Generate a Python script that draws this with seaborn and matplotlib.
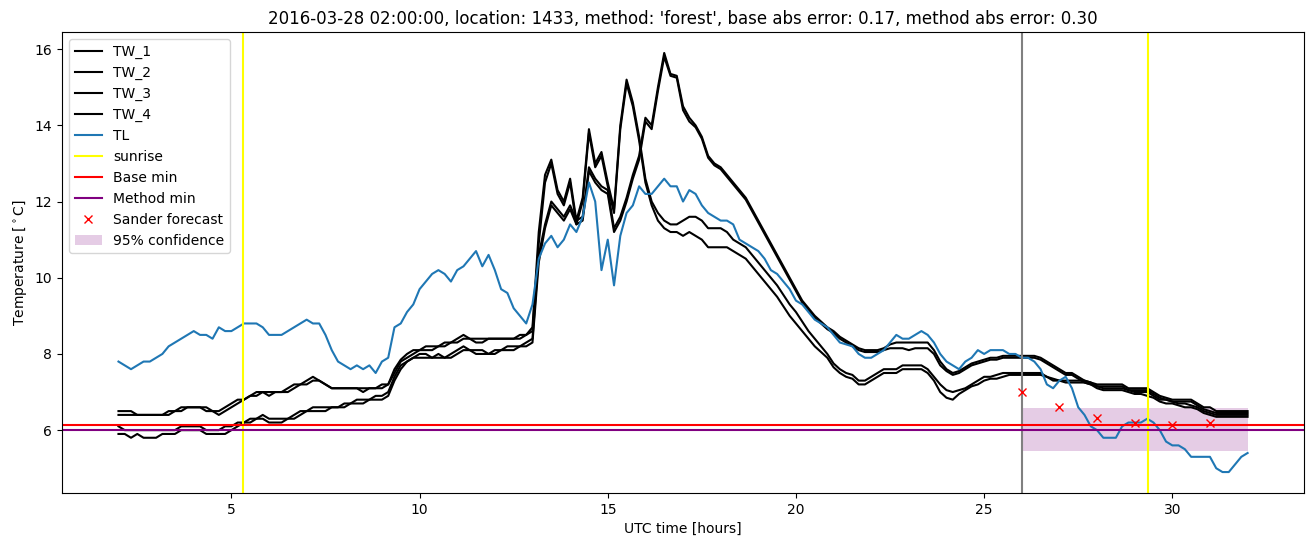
import numpy as np
import matplotlib
matplotlib.use("Agg")
import matplotlib.pyplot as plt
import seaborn as sns

# time axis: 10-minute steps from 02:00 to 32:00 UTC hours
hours = np.round(np.arange(181) / 6.0 + 2.0, 4)

TL = [
    7.8, 7.7, 7.6, 7.7, 7.8, 7.8, 7.9, 8.0, 8.2, 8.3, 8.4, 8.5,
    8.6, 8.5, 8.5, 8.4, 8.7, 8.6, 8.6, 8.7, 8.8, 8.8, 8.8, 8.7,
    8.5, 8.5, 8.5, 8.6, 8.7, 8.8, 8.9, 8.8, 8.8, 8.5, 8.1, 7.8,
    7.7, 7.6, 7.7, 7.6, 7.7, 7.5, 7.8, 7.9, 8.7, 8.8, 9.1, 9.3,
    9.7, 9.9, 10.1, 10.2, 10.1, 9.9, 10.2, 10.3, 10.5, 10.7, 10.3, 10.6,
    10.2, 9.7, 9.6, 9.2, 9.0, 8.8, 9.3, 10.5, 10.9, 11.1, 10.8, 11.0,
    11.4, 11.2, 11.6, 12.5, 12.0, 10.2, 11.0, 9.8, 11.1, 11.7, 11.9, 12.4,
    12.2, 12.2, 12.4, 12.6, 12.4, 12.4, 12.0, 12.3, 12.2, 11.9, 11.7, 11.6,
    11.5, 11.5, 11.4, 11.0, 10.9, 10.8, 10.7, 10.5, 10.2, 10.1, 9.9, 9.7,
    9.4, 9.3, 9.1, 8.9, 8.8, 8.7, 8.5, 8.3, 8.25, 8.2, 8.0, 7.9,
    7.9, 8.0, 8.1, 8.3, 8.5, 8.4, 8.4, 8.5, 8.6, 8.5, 8.3, 8.0,
    7.8, 7.7, 7.6, 7.8, 7.9, 8.1, 8.0, 8.1, 8.1, 8.1, 8.0, 8.0,
    7.9, 7.9, 7.8, 7.6, 7.2, 7.1, 7.3, 7.4, 7.1, 6.6, 6.4, 6.1,
    6.0, 5.8, 5.8, 5.8, 6.1, 6.2, 6.2, 6.2, 6.3, 6.2, 6.0, 5.7,
    5.6, 5.6, 5.5, 5.3, 5.3, 5.3, 5.3, 5.0, 4.9, 4.9, 5.1, 5.3,
    5.4,
]

TW_1 = [
    6.5, 6.5, 6.5, 6.4, 6.4, 6.4, 6.4, 6.4, 6.5, 6.5, 6.6, 6.6,
    6.6, 6.6, 6.5, 6.5, 6.5, 6.6, 6.7, 6.8, 6.8, 6.9, 7.0, 7.0,
    7.0, 7.0, 7.0, 7.1, 7.2, 7.2, 7.3, 7.4, 7.3, 7.2, 7.1, 7.1,
    7.1, 7.1, 7.1, 7.0, 7.1, 7.1, 7.1, 7.2, 7.6, 7.85, 8.0, 8.1,
    8.1, 8.2, 8.2, 8.2, 8.3, 8.3, 8.4, 8.5, 8.4, 8.4, 8.4, 8.4,
    8.4, 8.4, 8.4, 8.4, 8.5, 8.5, 8.7, 11.2, 12.7, 13.1, 12.3, 12.0,
    12.6, 11.5, 12.1, 13.9, 13.0, 13.3, 12.5, 11.8, 14.0, 15.2, 14.6, 13.7,
    12.6, 12.0, 11.7, 11.5, 11.4, 11.4, 11.5, 11.6, 11.6, 11.5, 11.3, 11.3,
    11.3, 11.2, 11.0, 10.9, 10.8, 10.6, 10.4, 10.2, 10.0, 9.8, 9.55, 9.3,
    9.1, 8.85, 8.6, 8.4, 8.2, 8.0, 7.75, 7.6, 7.5, 7.45, 7.3, 7.3,
    7.4, 7.5, 7.6, 7.6, 7.6, 7.7, 7.7, 7.7, 7.7, 7.6, 7.4, 7.2,
    7.05, 7.0, 7.05, 7.1, 7.2, 7.3, 7.4, 7.4, 7.45, 7.5, 7.5, 7.5,
    7.5, 7.5, 7.5, 7.5, 7.4, 7.35, 7.3, 7.3, 7.3, 7.3, 7.3, 7.25,
    7.15, 7.1, 7.1, 7.1, 7.1, 7.05, 7.0, 7.0, 7.0, 6.9, 6.8, 6.8,
    6.75, 6.7, 6.7, 6.65, 6.6, 6.5, 6.45, 6.4, 6.4, 6.4, 6.4, 6.4,
    6.4,
]

TW_2 = [
    6.4, 6.4, 6.4, 6.4, 6.4, 6.4, 6.4, 6.4, 6.4, 6.5, 6.5, 6.6,
    6.6, 6.6, 6.6, 6.5, 6.4, 6.5, 6.6, 6.7, 6.8, 6.9, 6.9, 7.0,
    6.9, 7.0, 7.0, 7.0, 7.1, 7.2, 7.2, 7.3, 7.3, 7.2, 7.1, 7.1,
    7.1, 7.1, 7.1, 7.1, 7.1, 7.1, 7.2, 7.2, 7.5, 7.8, 7.9, 8.0,
    8.1, 8.1, 8.1, 8.2, 8.2, 8.3, 8.3, 8.4, 8.4, 8.3, 8.3, 8.4,
    8.4, 8.4, 8.4, 8.4, 8.4, 8.5, 8.6, 10.9, 12.5, 13.0, 12.2, 11.9,
    12.5, 11.4, 12.0, 13.8, 12.9, 13.2, 12.4, 11.7, 13.9, 15.1, 14.5, 13.6,
    12.5, 11.9, 11.5, 11.3, 11.2, 11.2, 11.1, 11.2, 11.1, 11.0, 10.8, 10.8,
    10.8, 10.8, 10.7, 10.6, 10.5, 10.3, 10.1, 9.9, 9.7, 9.5, 9.25, 9.0,
    8.8, 8.6, 8.4, 8.2, 8.05, 7.9, 7.65, 7.5, 7.4, 7.35, 7.2, 7.2,
    7.3, 7.4, 7.5, 7.5, 7.5, 7.6, 7.6, 7.6, 7.6, 7.5, 7.3, 7.0,
    6.85, 6.8, 6.95, 7.05, 7.15, 7.2, 7.3, 7.35, 7.35, 7.4, 7.45, 7.45,
    7.45, 7.45, 7.45, 7.45, 7.4, 7.3, 7.3, 7.25, 7.25, 7.25, 7.25, 7.2,
    7.1, 7.05, 7.05, 7.05, 7.05, 7.0, 6.95, 6.95, 6.9, 6.85, 6.75, 6.7,
    6.7, 6.65, 6.6, 6.6, 6.55, 6.45, 6.4, 6.35, 6.35, 6.35, 6.35, 6.35,
    6.35,
]

TW_3 = [
    6.1, 6.0, 6.0, 6.0, 6.0, 6.0, 6.0, 6.0, 6.0, 6.0, 6.1, 6.1,
    6.1, 6.1, 6.0, 6.0, 6.0, 6.1, 6.1, 6.2, 6.2, 6.3, 6.3, 6.4,
    6.3, 6.3, 6.3, 6.3, 6.4, 6.5, 6.5, 6.6, 6.6, 6.6, 6.6, 6.6,
    6.7, 6.7, 6.8, 6.8, 6.8, 6.9, 6.9, 7.0, 7.4, 7.7, 7.8, 7.9,
    8.0, 8.0, 7.9, 8.0, 7.9, 8.0, 8.1, 8.2, 8.1, 8.1, 8.1, 8.0,
    8.1, 8.1, 8.2, 8.2, 8.2, 8.3, 8.4, 10.6, 11.4, 12.0, 11.8, 11.6,
    11.9, 11.5, 11.6, 12.9, 12.6, 12.4, 12.3, 11.3, 11.6, 12.1, 12.7, 13.2,
    14.2, 14.0, 15.0, 15.9, 15.35, 15.3, 14.5, 14.2, 14.0, 13.7, 13.2, 13.0,
    12.9, 12.7, 12.5, 12.3, 12.1, 11.8, 11.5, 11.2, 10.9, 10.6, 10.3, 10.0,
    9.7, 9.4, 9.2, 9.0, 8.85, 8.7, 8.6, 8.45, 8.35, 8.25, 8.15, 8.1,
    8.1, 8.1, 8.15, 8.25, 8.3, 8.3, 8.3, 8.3, 8.3, 8.3, 8.1, 7.8,
    7.6, 7.5, 7.55, 7.65, 7.75, 7.8, 7.85, 7.9, 7.9, 7.95, 7.95, 7.95,
    7.95, 7.95, 7.95, 7.9, 7.8, 7.7, 7.6, 7.5, 7.5, 7.4, 7.3, 7.25,
    7.2, 7.2, 7.2, 7.2, 7.2, 7.1, 7.1, 7.1, 7.1, 7.0, 6.9, 6.85,
    6.8, 6.8, 6.8, 6.8, 6.7, 6.6, 6.6, 6.5, 6.5, 6.5, 6.5, 6.5,
    6.5,
]

TW_4 = [
    5.9, 5.9, 5.8, 5.9, 5.8, 5.8, 5.8, 5.9, 5.9, 5.9, 6.0, 6.0,
    6.0, 6.0, 5.9, 5.9, 5.9, 5.9, 6.0, 6.1, 6.2, 6.2, 6.3, 6.3,
    6.2, 6.2, 6.2, 6.3, 6.3, 6.4, 6.5, 6.5, 6.5, 6.5, 6.6, 6.6,
    6.6, 6.7, 6.7, 6.7, 6.8, 6.8, 6.8, 6.9, 7.3, 7.6, 7.8, 7.9,
    7.9, 7.9, 7.9, 7.9, 7.9, 7.9, 8.0, 8.1, 8.1, 8.0, 8.0, 8.0,
    8.0, 8.1, 8.1, 8.1, 8.2, 8.2, 8.3, 10.4, 11.3, 11.9, 11.7, 11.5,
    11.8, 11.4, 11.5, 12.8, 12.5, 12.3, 12.2, 11.2, 11.5, 12.0, 12.6, 13.1,
    14.1, 13.9, 14.9, 15.8, 15.3, 15.25, 14.4, 14.1, 13.95, 13.65, 13.15, 12.95,
    12.85, 12.65, 12.45, 12.25, 12.05, 11.75, 11.45, 11.15, 10.85, 10.55, 10.25, 9.95,
    9.65, 9.35, 9.15, 8.95, 8.8, 8.65, 8.55, 8.4, 8.3, 8.2, 8.1, 8.05,
    8.05, 8.05, 8.1, 8.15, 8.15, 8.15, 8.1, 8.15, 8.15, 8.15, 8.0, 7.7,
    7.55, 7.45, 7.5, 7.6, 7.7, 7.75, 7.8, 7.85, 7.85, 7.9, 7.9, 7.9,
    7.9, 7.9, 7.9, 7.85, 7.75, 7.65, 7.55, 7.45, 7.45, 7.35, 7.25, 7.2,
    7.15, 7.15, 7.15, 7.15, 7.15, 7.05, 7.05, 7.05, 7.05, 6.95, 6.85, 6.8,
    6.75, 6.75, 6.75, 6.75, 6.65, 6.55, 6.5, 6.45, 6.45, 6.45, 6.45, 6.45,
    6.45,
]

tw_labels = ["TW_1", "TW_2", "TW_3", "TW_4"]
sunrise_hours = [5.32, 29.35]
forecast_start = 26.0
base_min = 6.13
method_min = 6.0
forecast_hours = [26, 27, 28, 29, 30, 31]
forecast_values = [6.99, 6.62, 6.31, 6.20, 6.13, 6.20]
conf_hours = [26.0, 32.0]
conf_low = 5.44
conf_high = 6.58

title = ("2016-03-28 02:00:00, location: 1433, method: 'forest', "
         "base abs error: 0.17, method abs error: 0.30")

fig = plt.figure(figsize=(13.11, 5.47), dpi=100)
ax = fig.add_axes([0.0473, 0.0987, 0.9474, 0.8428])

for lab, series in zip(tw_labels, [TW_1, TW_2, TW_3, TW_4]):
    sns.lineplot(x=hours, y=series, color="black", label=lab, ax=ax, linewidth=1.5)
sns.lineplot(x=hours, y=TL, color="#1f77b4", label="TL", ax=ax, linewidth=1.5)

ax.axvline(sunrise_hours[0], color="yellow", label="sunrise", linewidth=1.5)
ax.axvline(sunrise_hours[1], color="yellow", linewidth=1.5)
ax.axvline(forecast_start, color="gray", linewidth=1.5)
ax.axhline(base_min, color="red", label="Base min", linewidth=1.5)
ax.axhline(method_min, color="purple", label="Method min", linewidth=1.5)
ax.plot(forecast_hours, forecast_values, "x", color="red", label="Sander forecast")
ax.fill_between(conf_hours, [conf_low] * 2, [conf_high] * 2,
                color="purple", alpha=0.2, linewidth=0, label="95% confidence")

ax.set_title(title, fontsize=12)
ax.set_xlabel("UTC time [hours]")
ax.set_ylabel("Temperature [$^\\circ$C]")
ax.set_xticks([5, 10, 15, 20, 25, 30])
ax.set_yticks([6, 8, 10, 12, 14, 16])
ax.legend(loc="upper left")

fig.savefig("out.png", dpi=100)
